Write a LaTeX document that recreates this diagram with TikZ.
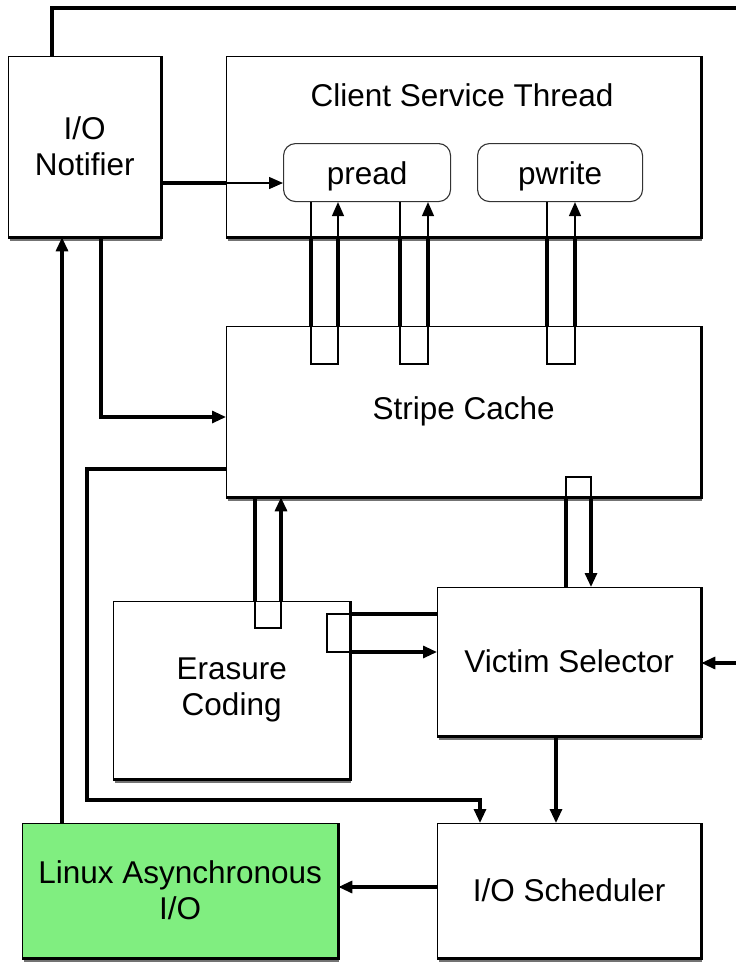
\documentclass[tikz,border=0pt]{standalone}
\usepackage{fontspec}
\setmainfont{Liberation Sans}
\usetikzlibrary{arrows.meta,shadows}
\definecolor{laiogreen}{RGB}{128,238,128}
\begin{document}
\begin{tikzpicture}[x=1pt,y=-1pt,
  lbl/.style={font=\fontsize{31.5}{36}\selectfont},
  box/.style={draw, line width=1.3pt, fill=white, align=center, inner sep=0pt,
    anchor=north west, lbl,
    drop shadow={shadow xshift=1pt, shadow yshift=-4pt, fill=black!55, opacity=1}},
  rbox/.style={draw=black!80, line width=1.1pt, rounded corners=12pt, fill=white,
    anchor=north west, inner sep=0pt, lbl, text height=31pt, text depth=7pt},
  conn/.style={line width=3.1pt},
  thinc/.style={line width=1.4pt},
  arr/.style={-{Triangle[length=14pt,width=12pt]}},
  edge/.style={line width=2.8pt}
]
\useasboundingbox (0,0) rectangle (736,962);

% boxes
\node[box, minimum width=152pt, minimum height=180pt] (ion) at (8,56) {I/O\\Notifier};
\node[box, minimum width=474pt, minimum height=180pt] (cst) at (226,56) {};
\node[lbl] (cstt) at (462,95) {Client Service Thread};
\node[rbox, minimum width=167pt, minimum height=58pt] (pread) at (283,143) {pread};
\node[rbox, minimum width=165pt, minimum height=58pt] (pwrite) at (477,143) {pwrite};
\node[box, minimum width=474pt, minimum height=170pt] (sc) at (226,326) {Stripe Cache};
\node[box, minimum width=236pt, minimum height=177pt] (ec) at (113,601) {Erasure\\Coding};
\node[box, minimum width=263pt, minimum height=148pt] (vs) at (437,587) {Victim Selector};
\node[box, minimum width=263pt, minimum height=134pt] (ios) at (437,823) {I/O Scheduler};
\node[box, fill=laiogreen, minimum width=315pt, minimum height=134pt] (laio) at (22,823) {Linux Asynchronous\\I/O};

\foreach \n in {ion,cst,sc,ec,vs,ios,laio}
  \draw[edge] (\n.north east) -- (\n.south east) -- (\n.south west);

% feedback lines to the right edge
\coordinate (topend) at (736,8);
\coordinate (rightend) at (736,663);
\draw[conn] (ion.north -| 52,0) |- (topend);
\draw[conn, arr] (rightend) -- (vs.east |- rightend);

% I/O notifier -> pread
\draw[conn] (ion.east |- 0,183) -- (cst.west |- 0,183);
\draw[thinc, arr] (cst.west |- 0,183) -- (pread.west |- 0,183);

% pread / pwrite <-> stripe cache
\foreach \a/\b/\t in {311/338/pread, 400/428/pread, 547/575/pwrite}{
  \draw[thinc, arr] (\t.south -| \a,0) -- (\a,364) -- (\b,364) -- (\t.south -| \b,0);
  \draw[conn] (cst.south -| \a,0) -- (sc.north -| \a,0);
  \draw[conn] (cst.south -| \b,0) -- (sc.north -| \b,0);
}

% I/O notifier -> stripe cache
\draw[conn, arr] (ion.south -| 101,0) |- (sc.west |- 0,417);
% Linux AIO -> I/O notifier
\draw[conn, arr] (laio.north -| 62,0) -- (ion.south -| 62,0);
% stripe cache -> I/O scheduler
\draw[conn, arr] (sc.west |- 0,469) -| (87,800) -| (ios.north -| 480,0);
% stripe cache <-> erasure coding
\draw[thinc] (ec.north -| 255,0) -- (255,628) -- (281,628) -- (ec.north -| 281,0);
\draw[conn] (sc.south -| 255,0) -- (ec.north -| 255,0);
\draw[conn, arr] (ec.north -| 281,0) -- (sc.south -| 281,0);
% stripe cache <-> victim selector
\draw[thinc] (sc.south -| 566,0) -- (566,477) -- (591,477) -- (sc.south -| 591,0);
\draw[conn] (vs.north -| 566,0) -- (sc.south -| 566,0);
\draw[conn, arr] (sc.south -| 591,0) -- (vs.north -| 591,0);
% erasure coding <-> victim selector
\draw[thinc] (ec.east |- 0,614) -- (327,614) -- (327,652) -- (ec.east |- 0,652);
\draw[conn] (vs.west |- 0,614) -- (ec.east |- 0,614);
\draw[conn, arr] (ec.east |- 0,652) -- (vs.west |- 0,652);
% victim selector -> I/O scheduler
\draw[conn, arr] (vs.south -| 556,0) -- (ios.north -| 556,0);
% I/O scheduler -> Linux AIO
\draw[conn, arr] (ios.west |- 0,887) -- (laio.east |- 0,887);
\end{tikzpicture}
\end{document}
